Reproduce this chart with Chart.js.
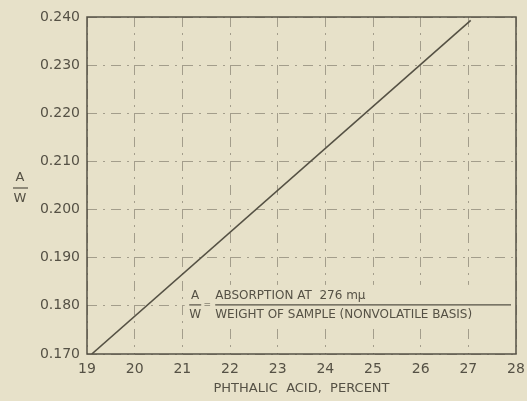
<!DOCTYPE html>
<html>
<head>
<meta charset="utf-8">
<script src="https://cdn.jsdelivr.net/npm/chart.js@4/dist/chart.umd.min.js"></script>
<style>
  html, body { margin: 0; padding: 0; background: #e7e1c9; }
  #wrap { width: 527px; height: 401px; position: relative; }
</style>
</head>
<body>
<div id="wrap"><canvas id="c" width="527" height="401"></canvas></div>
<script>
// Calibration line: A/W versus phthalic acid content
const phthalicPct = [19.1, 27.05];
const absorbanceRatio = [0.170, 0.2393];

// Axis tick labels
const xTickLabels = ['19', '20', '21', '22', '23', '24', '25', '26', '27', '28'];
const yTickLabels = ['0.170', '0.180', '0.190', '0.200', '0.210', '0.220', '0.230', '0.240'];

const ink = '#555145';
const gridInk = 'rgba(80,76,64,0.45)';
const paper = '#e7e1c9';
const fontFam = '"DejaVu Sans", "Liberation Sans", sans-serif';

const points = phthalicPct.map((x, i) => ({ x, y: absorbanceRatio[i] }));

// Paper patch behind the definition note so the grid stops around it
const notePatch = {
  id: 'notePatch',
  beforeDatasetsDraw(chart) {
    const { ctx, chartArea: a, scales } = chart;
    const yMid = scales.y.getPixelForValue(0.1802);
    const x0 = scales.x.getPixelForValue(21.05);
    ctx.save();
    ctx.fillStyle = paper;
    ctx.fillRect(x0, yMid - 20, a.right - 2 - x0, 40);
    ctx.restore();
  }
};

// Frame, A/W axis caption and the definition note inside the plot
const decorations = {
  id: 'decorations',
  afterDraw(chart) {
    const { ctx, chartArea: a, scales } = chart;
    ctx.save();
    ctx.strokeStyle = ink;
    ctx.lineWidth = 1.5;
    ctx.strokeRect(a.left, a.top, a.right - a.left, a.bottom - a.top);

    ctx.fillStyle = ink;
    ctx.textAlign = 'center';
    ctx.textBaseline = 'middle';

    // y-axis caption A over W
    ctx.font = '13px ' + fontFam;
    ctx.fillText('A', 20, 178);
    ctx.fillText('W', 20, 199);
    ctx.lineWidth = 1.2;
    ctx.beginPath(); ctx.moveTo(13, 188); ctx.lineTo(28, 188); ctx.stroke();

    // definition note
    const yMid = scales.y.getPixelForValue(0.1802);
    const xA = scales.x.getPixelForValue(21.27);
    ctx.font = '12px ' + fontFam;
    ctx.fillText('A', xA, yMid - 9);
    ctx.fillText('W', xA, yMid + 10);
    ctx.beginPath(); ctx.moveTo(xA - 6, yMid); ctx.lineTo(xA + 6, yMid); ctx.stroke();
    ctx.font = '9px ' + fontFam;
    ctx.fillText('=', xA + 12, yMid);

    ctx.textAlign = 'left';
    ctx.font = '12px ' + fontFam;
    const xT = xA + 20;
    ctx.fillText('ABSORPTION AT  276 m\u03BC', xT, yMid - 9);
    ctx.fillText('WEIGHT OF SAMPLE (NONVOLATILE BASIS)', xT, yMid + 10);
    ctx.beginPath(); ctx.moveTo(xT, yMid); ctx.lineTo(a.right - 5, yMid); ctx.stroke();
    ctx.restore();
  }
};

new Chart(document.getElementById('c'), {
  type: 'scatter',
  data: {
    datasets: [{
      data: points,
      showLine: true,
      borderColor: '#555144',
      borderWidth: 1.6,
      pointRadius: 0,
      fill: false
    }]
  },
  options: {
    responsive: false,
    animation: false,
    layout: { padding: { top: 17, right: 11, left: 0, bottom: 0 } },
    plugins: { legend: { display: false }, tooltip: { enabled: false } },
    scales: {
      x: {
        type: 'linear',
        min: 19, max: 28,
        afterBuildTicks(s) { s.ticks = xTickLabels.map(v => ({ value: Number(v) })); },
        afterFit(s) { s.height = 47; s.paddingLeft = 0; s.paddingRight = 0; },
        ticks: {
          color: ink,
          font: { family: fontFam, size: 14 },
          padding: 7,
          callback: (v) => xTickLabels.find(t => Number(t) === v) || ''
        },
        grid: { color: gridInk, lineWidth: 1, drawTicks: false },
        border: { display: false, dash: [10, 6, 2, 6] },
        title: {
          display: true,
          text: 'PHTHALIC  ACID,  PERCENT',
          color: ink,
          font: { family: fontFam, size: 13 },
          padding: { top: 0, bottom: 5 }
        }
      },
      y: {
        type: 'linear',
        min: 0.170, max: 0.240,
        afterBuildTicks(s) { s.ticks = yTickLabels.map(v => ({ value: Number(v) })); },
        afterFit(s) { s.width = 87; s.paddingTop = 0; s.paddingBottom = 0; },
        ticks: {
          color: ink,
          font: { family: fontFam, size: 14 },
          padding: 7,
          callback: (v) => yTickLabels.find(t => Math.abs(Number(t) - v) < 1e-6) || ''
        },
        grid: { color: gridInk, lineWidth: 1, drawTicks: false },
        border: { display: false, dash: [10, 6, 2, 6] }
      }
    }
  },
  plugins: [notePatch, decorations]
});
</script>
</body>
</html>
